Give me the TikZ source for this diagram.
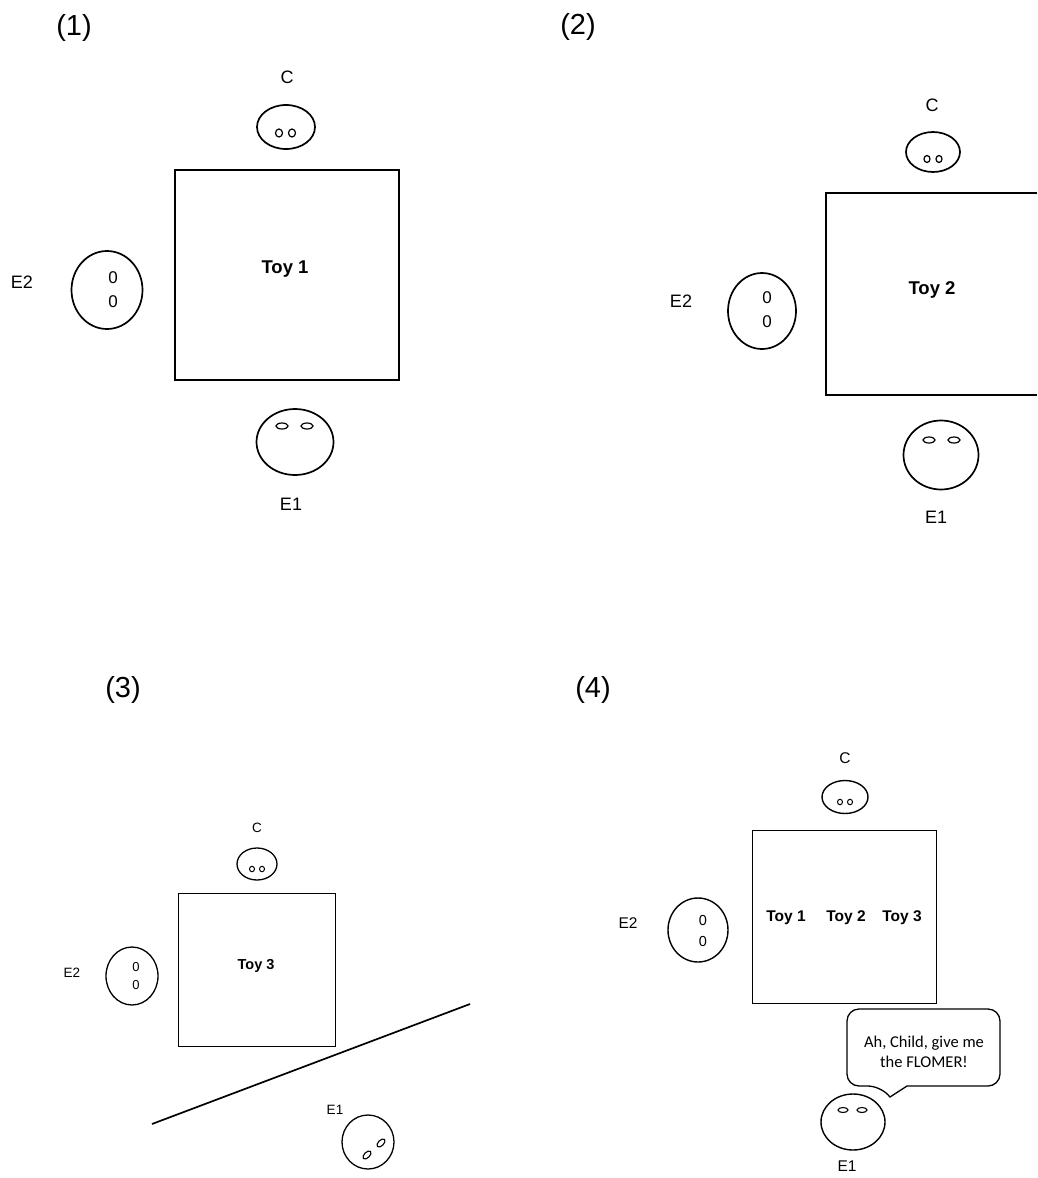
\documentclass[tikz,border=0pt]{standalone}
\usepackage{fontspec}
\setmainfont{Liberation Sans}
\newfontfamily\bubblefont{Carlito}
\usetikzlibrary{shapes.geometric}
\begin{document}
\begin{tikzpicture}[x=1pt,y=-1pt,
  lw/.style={line width=1.7pt},
  head/.style={ellipse,draw,lw,inner sep=0pt},
  eye/.style={ellipse,draw,line width=1.2pt,inner sep=0pt},
  toybox/.style={draw,lw,inner sep=0pt,anchor=north west},
  lbl/.style={font=\fontsize{18}{21}\selectfont,inner sep=0pt},
  lblm/.style={font=\fontsize{15.5}{18}\selectfont,inner sep=0pt},
  lbls/.style={font=\fontsize{13.5}{16}\selectfont,inner sep=0pt},
  num/.style={font=\fontsize{29}{34}\selectfont,inner sep=0pt},
  zero/.style={inner sep=0pt}
]
\useasboundingbox (0,0) rectangle (1037,1178);
\fill[white] (0,0) rectangle (1037,1178);

% ---------- Panel 1 ----------
\node[num] (n1) at (74,28) {(1)};
\node[lbl] (c1l) at (287,77) {C};
\node[head,minimum width=58pt,minimum height=44pt] (c1) at (286,127) {};
\node[eye,minimum width=7pt,minimum height=8pt] (c1e1) at (279,133) {};
\node[eye,minimum width=7pt,minimum height=8pt] (c1e2) at (292,133) {};
\node[toybox,minimum width=224pt,minimum height=210pt] (b1) at (174,169) {};
\node[lbl,font=\fontsize{18.5}{21}\selectfont\bfseries] (t1) at (285,269) {Toy 1};
\node[lbl] (e21l) at (22,282) {E2};
\node[head,minimum width=71pt,minimum height=78pt] (e21) at (107,290) {};
\node[zero,font=\fontsize{17}{18}\selectfont] (e21a) at (113,278) {0};
\node[zero,font=\fontsize{17}{18}\selectfont] (e21b) at (113,302) {0};
\node[head,minimum width=77pt,minimum height=66pt] (e11) at (295,442) {};
\node[eye,minimum width=12pt,minimum height=6pt] (e11a) at (282,426) {};
\node[eye,minimum width=12pt,minimum height=6pt] (e11b) at (307,426) {};
\node[lbl] (e11l) at (291,504) {E1};

% ---------- Panel 2 ----------
\node[num] (n2) at (578,27) {(2)};
\node[lbl] (c2l) at (932,105) {C};
\node[head,minimum width=54pt,minimum height=40pt] (c2) at (933,152) {};
\node[eye,minimum width=6pt,minimum height=7pt] (c2e1) at (927,159) {};
\node[eye,minimum width=6pt,minimum height=7pt] (c2e2) at (939,159) {};
\coordinate (b2tr) at (1037,193);
\coordinate (b2tl) at (826,193);
\coordinate (b2bl) at (826,395);
\coordinate (b2br) at (1037,395);
\draw[lw] (b2tr) -- (b2tl) -- (b2bl) -- (b2br);
\node[lbl,font=\fontsize{18.5}{21}\selectfont\bfseries] (t2) at (932,290) {Toy 2};
\node[lbl] (e22l) at (681,301) {E2};
\node[head,minimum width=68pt,minimum height=76pt] (e22) at (762,311) {};
\node[zero,font=\fontsize{17}{18}\selectfont] (e22a) at (767,298) {0};
\node[zero,font=\fontsize{17}{18}\selectfont] (e22b) at (767,322) {0};
\node[head,minimum width=75pt,minimum height=69pt] (e12) at (941,455) {};
\node[eye,minimum width=12pt,minimum height=6pt] (e12a) at (929,440) {};
\node[eye,minimum width=12pt,minimum height=6pt] (e12b) at (954,440) {};
\node[lbl] (e12l) at (936,517) {E1};

% ---------- Panel 3 ----------
\node[num] (n3) at (123,690) {(3)};
\node[lbls] (c3l) at (257,828) {C};
\node[head,line width=1.3pt,minimum width=40pt,minimum height=32pt] (c3) at (257,864) {};
\node[eye,line width=1pt,minimum width=5pt,minimum height=5.5pt] (c3e1) at (252,869) {};
\node[eye,line width=1pt,minimum width=5pt,minimum height=5.5pt] (c3e2) at (262,869) {};
\node[toybox,line width=1.3pt,minimum width=157pt,minimum height=153pt] (b3) at (178,893) {};
\node[lbls,font=\fontsize{14.5}{16}\selectfont\bfseries] (t3) at (256,966) {Toy 3};
\node[lbls] (e23l) at (72,973) {E2};
\node[head,line width=1.3pt,minimum width=52pt,minimum height=58pt] (e23) at (132,976) {};
\node[zero,font=\fontsize{13}{14}\selectfont] (e23a) at (136,967) {0};
\node[zero,font=\fontsize{13}{14}\selectfont] (e23b) at (136,985) {0};
\coordinate (l3a) at (152,1124);
\coordinate (l3b) at (470,1004);
\draw[lw] (l3a) -- (l3b);
\node[lbls] (e13l) at (335,1110) {E1};
\node[head,line width=1.3pt,minimum width=52pt,minimum height=54pt] (e13) at (368,1142) {};
\node[eye,line width=1.1pt,minimum width=10pt,minimum height=5.5pt,rotate=45] (e13a) at (367,1155) {};
\node[eye,line width=1.1pt,minimum width=10pt,minimum height=5.5pt,rotate=45] (e13b) at (381,1143) {};

% ---------- Panel 4 ----------
\node[num] (n4) at (593,690) {(4)};
\node[lblm] (c4l) at (845,758) {C};
\node[head,line width=1.4pt,minimum width=46pt,minimum height=33pt] (c4) at (845,797) {};
\node[eye,line width=1pt,minimum width=5pt,minimum height=5.5pt] (c4e1) at (840,802) {};
\node[eye,line width=1pt,minimum width=5pt,minimum height=5.5pt] (c4e2) at (850,802) {};
\node[toybox,line width=1.4pt,minimum width=184pt,minimum height=173pt] (b4) at (752,830) {};
\node[lblm,font=\fontsize{15.5}{18}\selectfont\bfseries] (t41) at (786,918) {Toy 1};
\node[lblm,font=\fontsize{15.5}{18}\selectfont\bfseries] (t42) at (846,918) {Toy 2};
\node[lblm,font=\fontsize{15.5}{18}\selectfont\bfseries] (t43) at (902,918) {Toy 3};
\node[lblm] (e24l) at (628,923) {E2};
\node[head,line width=1.4pt,minimum width=60pt,minimum height=64pt] (e24) at (698,930) {};
\node[zero,font=\fontsize{14.5}{16}\selectfont] (e24a) at (703,920) {0};
\node[zero,font=\fontsize{14.5}{16}\selectfont] (e24b) at (703,941) {0};
\coordinate (bt1) at (880,1086);
\coordinate (btip) at (890,1097);
\coordinate (bt2) at (907,1086);
\draw[line width=1.3pt,rounded corners=12pt] (bt2) -- (1000,1086) -- (1000,1009) -- (847,1009) -- (847,1086) -- (bt1) [sharp corners] -- (btip) -- cycle;
\node[inner sep=0pt,align=center,font=\bubblefont\fontsize{16.5}{20}\selectfont] (bub) at (924,1052) {Ah, Child, give me\\the FLOMER!};
\node[head,line width=1.4pt,minimum width=64pt,minimum height=56pt] (e14) at (853,1122) {};
\node[eye,line width=1.1pt,minimum width=10pt,minimum height=5pt] (e14a) at (843,1110) {};
\node[eye,line width=1.1pt,minimum width=10pt,minimum height=5pt] (e14b) at (862,1110) {};
\node[lblm] (e14l) at (847,1166) {E1};
\end{tikzpicture}
\end{document}
